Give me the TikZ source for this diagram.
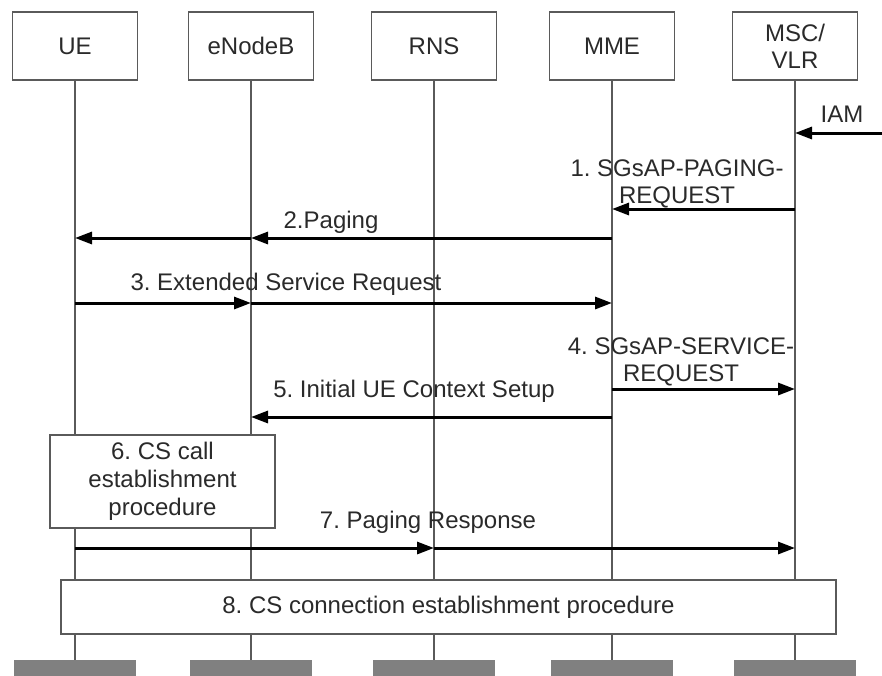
\documentclass[tikz,border=0pt]{standalone}
\usepackage{fontspec}
\setmainfont{Liberation Sans}
\usetikzlibrary{arrows.meta,positioning}
\definecolor{boxgray}{HTML}{5A5A5A}
\definecolor{txtgray}{HTML}{2A2A2A}
\definecolor{footgray}{HTML}{808080}
\newcommand{\msgfont}{\fontsize{24}{27}\selectfont}
\frenchspacing
\tikzset{
    %Define standard arrow tip
    >={Triangle[length=17pt,width=12pt]},
    %Define style for entity boxes
    entity/.style={
           rectangle,
           draw=boxgray, line width=1.8pt,
           fill=white,
           minimum width=125pt,
           minimum height=68pt,
           font=\msgfont,
           align=center,
           text=txtgray},
    %Define style for procedure boxes
    proc/.style={
           rectangle,
           draw=boxgray, line width=1.8pt,
           fill=white,
           font=\fontsize{24}{28}\selectfont,
           align=center,
           text=txtgray},
    foot/.style={
           rectangle,
           fill=footgray,
           minimum width=122pt,
           minimum height=18pt,
           inner sep=0pt},
    lbl/.style={
           font=\msgfont,
           align=center,
           text=txtgray,
           inner sep=0pt},
    % Define arrow style
    msg/.style={
           ->,
           line width=3pt},
    life/.style={
           draw=boxgray,
           line width=1.5pt}
}
\begin{document}
\begin{tikzpicture}[x=1pt,y=-1pt]
\useasboundingbox (0,0) rectangle (882,675);
 %entities
\node[entity](ue) at (75,46){UE};
\node[entity](enb) at (251,46){eNodeB};
\node[entity](rns) at (434,46){RNS};
\node[entity](mme) at (612,46){MME};
\node[entity](msc) at (795,46){MSC/\\VLR};
 %feet
\node[foot](ueF) at (75,669){};
\node[foot](enbF) at (251,669){};
\node[foot](rnsF) at (434,669){};
\node[foot](mmeF) at (612,669){};
\node[foot](mscF) at (795,669){};
 %lifelines
\foreach \n in {ue,enb,rns,mme,msc}
    \draw[life] (\n.south) -- (\n F.north);
 %message rows
\coordinate (r0) at (882,133);
\coordinate (r1) at (0,209);
\coordinate (r2) at (0,238);
\coordinate (r3) at (0,303);
\coordinate (r4) at (0,389);
\coordinate (r5) at (0,417);
\coordinate (r7) at (0,548);
 %messages
\draw[msg] (r0) -- (msc |- r0);
\draw[msg] (msc |- r1) -- (mme |- r1);
\draw[msg] (mme |- r2) -- (enb |- r2);
\draw[msg] (enb |- r2) -- (ue |- r2);
\draw[msg] (ue |- r3) -- (enb |- r3);
\draw[msg] (enb |- r3) -- (mme |- r3);
\draw[msg] (mme |- r4) -- (msc |- r4);
\draw[msg] (mme |- r5) -- (enb |- r5);
\draw[msg] (ue |- r7) -- (rns |- r7);
\draw[msg] (rns |- r7) -- (msc |- r7);
 %labels
\node[lbl](l0) at (842,114){IAM};
\node[lbl](l1) at (677,184){1. SGsAP-PAGING-\\REQUEST};
\node[lbl](l2) at (331,222){2.Paging};
\node[lbl](l3) at (286,284){3. Extended Service Request};
\node[lbl](l4) at (681,362){4. SGsAP-SERVICE-\\REQUEST};
\node[lbl](l5) at (414,391){5. Initial UE Context Setup};
\node[lbl](l7) at (428,522){7. Paging Response};
 %procedures
\node[proc, minimum width=225pt, minimum height=93pt](p6) at (162.5,481.5){6. CS call\\establishment\\procedure};
\node[proc, minimum width=775pt, minimum height=54pt](p8) at (448.5,607){8. CS connection establishment procedure};
\end{tikzpicture}
\end{document}
